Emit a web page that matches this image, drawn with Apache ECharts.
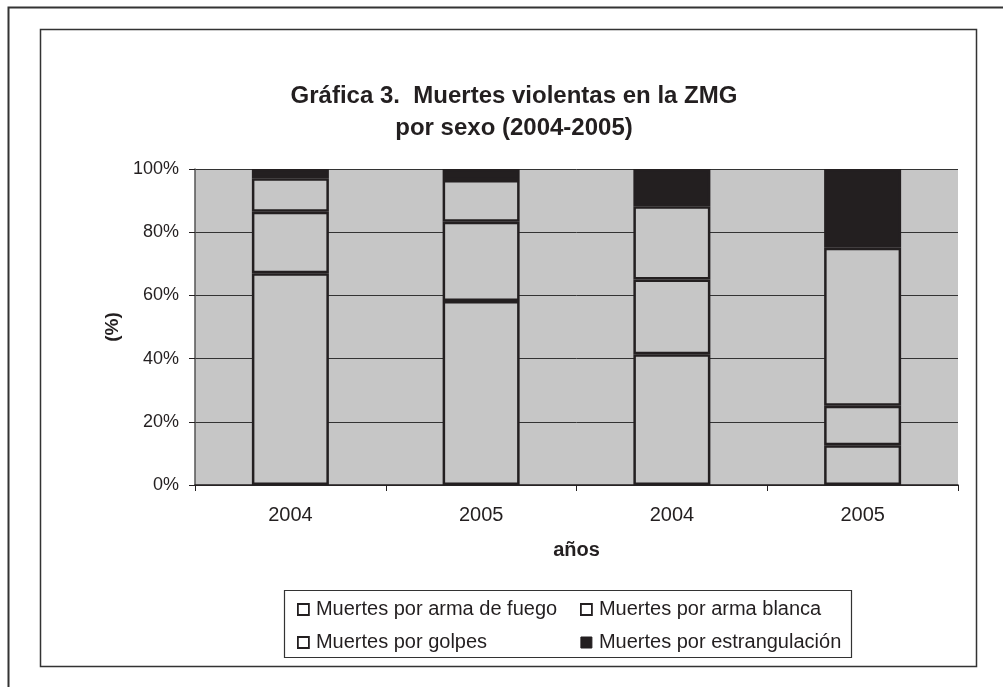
<!DOCTYPE html>
<html>
<head>
<meta charset="utf-8">
<script src="https://cdn.jsdelivr.net/npm/echarts@6/dist/echarts.min.js"></script>
<style>
html,body{margin:0;padding:0;background:#fff;}
#chart{width:1003px;height:687px;}
</style>
</head>
<body>
<div id="chart"></div>
<script>
var categories = ['2004', '2005', '2004', '2005'];
var yTicks = [0, 20, 40, 60, 80, 100];
var armaFuego = [67.0, 58.2, 41.4, 12.6];
var armaBlanca = [19.5, 25.1, 23.6, 12.5];
var golpes = [10.6, 13.2, 23.2, 50.0];
var estrangulacion = [2.9, 3.5, 11.8, 24.9];
var seriesNames = ['Muertes por arma de fuego', 'Muertes por arma blanca', 'Muertes por golpes', 'Muertes por estrangulación'];

var FONT = 'Liberation Sans, Arial, sans-serif';
var GRAY = '#C6C6C6';
var DARK = '#231F20';

function barSeries(name, data, fill) {
  return {
    name: name,
    type: 'bar',
    stack: 'total',
    data: data,
    barWidth: 77,
    itemStyle: { color: fill, borderColor: DARK, borderWidth: 2.5 },
    emphasis: { disabled: true },
    animation: false
  };
}

var chart = echarts.init(document.getElementById('chart'), null, { renderer: 'canvas' });
var lgIcon = { color: '#fff', borderColor: DARK, borderWidth: 1.8 };
var lgText = { fontFamily: FONT, fontSize: 20, color: DARK, lineHeight: 21, padding: [0, 0, 0, 2] };
chart.setOption({
  backgroundColor: '#fff',
  animation: false,
  title: {
    text: 'Gráfica 3.  Muertes violentas en la ZMG\npor sexo (2004-2005)',
    left: 509, top: 75, textAlign: 'center',
    textStyle: { fontFamily: FONT, fontWeight: 'bold', fontSize: 24, color: DARK, lineHeight: 32 }
  },
  graphic: [
    { type: 'polyline', shape: { points: [[8.5, 700], [8.5, 7.5], [1010, 7.5]] }, style: { stroke: '#333', lineWidth: 2, fill: null } },
    { type: 'rect', shape: { x: 40.5, y: 29.5, width: 936, height: 637 }, style: { stroke: '#333', lineWidth: 1.5, fill: null } },
    { type: 'rect', shape: { x: 284.5, y: 590.5, width: 567, height: 67 }, style: { stroke: '#333', lineWidth: 1.2, fill: null } }
  ],
  legend: [
    {
      orient: 'vertical', left: 292, top: 594, itemWidth: 11, itemHeight: 11, itemGap: 12,
      selectedMode: false,
      textStyle: lgText,
      data: [
        { name: seriesNames[0], icon: 'rect', itemStyle: lgIcon },
        { name: seriesNames[2], icon: 'rect', itemStyle: lgIcon }
      ]
    },
    {
      orient: 'vertical', left: 575, top: 594, itemWidth: 11, itemHeight: 11, itemGap: 12,
      selectedMode: false,
      textStyle: lgText,
      data: [
        { name: seriesNames[1], icon: 'rect', itemStyle: lgIcon },
        { name: seriesNames[3], icon: 'rect', itemStyle: { color: DARK, borderColor: DARK, borderWidth: 1 } }
      ]
    }
  ],
  grid: {
    left: 195, right: 45, top: 169, bottom: 202,
    show: true, backgroundColor: GRAY, borderWidth: 0
  },
  xAxis: {
    type: 'category',
    data: categories,
    name: 'años',
    nameLocation: 'middle',
    nameGap: 55,
    nameTextStyle: { fontFamily: FONT, fontWeight: 'bold', fontSize: 20, color: DARK },
    axisLine: { lineStyle: { color: DARK, width: 1.5 } },
    axisTick: { show: true, length: 6, lineStyle: { color: DARK } },
    axisLabel: { fontFamily: FONT, fontSize: 20, color: DARK, margin: 20 },
    splitLine: { show: false }
  },
  yAxis: {
    type: 'value',
    min: yTicks[0], max: yTicks[yTicks.length - 1], interval: yTicks[1] - yTicks[0],
    name: '(%)',
    nameLocation: 'middle',
    nameGap: 72,
    nameRotate: 90,
    nameTextStyle: { fontFamily: FONT, fontWeight: 'bold', fontSize: 19, color: DARK },
    axisLine: { show: true, lineStyle: { color: '#555', width: 1.5 } },
    axisTick: { show: true, length: 6, lineStyle: { color: DARK } },
    axisLabel: { fontFamily: FONT, fontSize: 18, color: DARK, margin: 16, formatter: '{value}%' },
    splitLine: { show: true, lineStyle: { color: '#333', width: 1 } }
  },
  series: [
    barSeries(seriesNames[0], armaFuego, GRAY),
    barSeries(seriesNames[1], armaBlanca, GRAY),
    barSeries(seriesNames[2], golpes, GRAY),
    barSeries(seriesNames[3], estrangulacion, DARK)
  ]
});
</script>
</body>
</html>
